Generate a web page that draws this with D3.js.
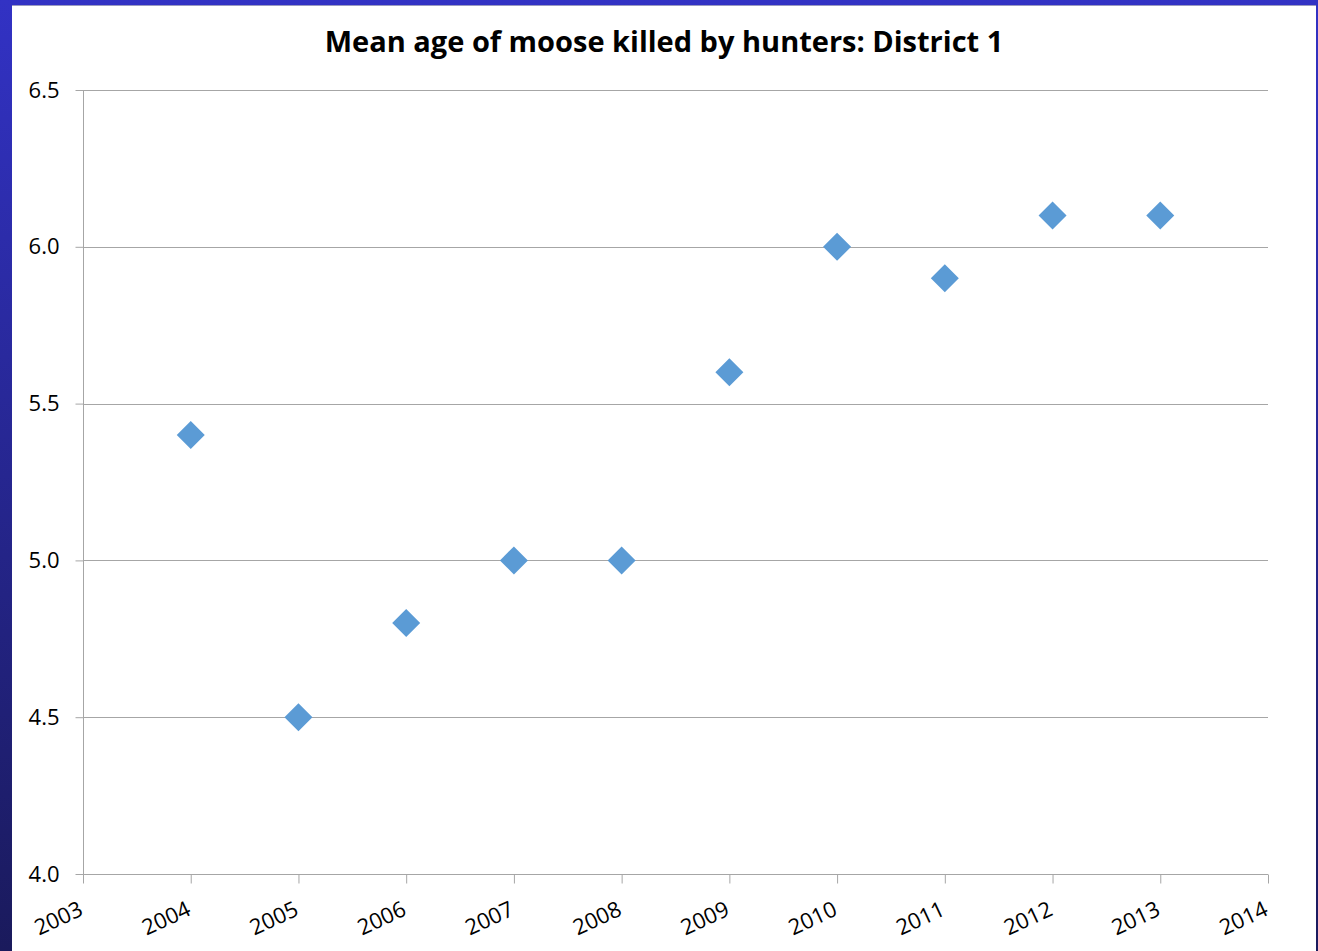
<!DOCTYPE html>
<html><head><meta charset="utf-8">
<script src="https://cdn.jsdelivr.net/npm/d3@7"></script>
<style>body{margin:0;padding:0;background:#fff;}svg{display:block;}</style>
</head><body>
<script>
const years = [2004, 2005, 2006, 2007, 2008, 2009, 2010, 2011, 2012, 2013];
const meanAge = [5.4, 4.5, 4.8, 5.0, 5.0, 5.6, 6.0, 5.9, 6.1, 6.1];
const xTicks = [2003,2004,2005,2006,2007,2008,2009,2010,2011,2012,2013,2014];
const yTicks = [4.0, 4.5, 5.0, 5.5, 6.0, 6.5];
const title = "Mean age of moose killed by hunters: District 1";

const W = 1318, H = 951;
const svg = d3.select("body").append("svg").attr("width", W).attr("height", H);
const defs = svg.append("defs");
const grad = defs.append("linearGradient").attr("id","lg").attr("x1",0).attr("y1",0).attr("x2",0).attr("y2",1);
grad.append("stop").attr("offset","0%").attr("stop-color","#3232c4");
grad.append("stop").attr("offset","100%").attr("stop-color","#1a1a5c");

svg.append("rect").attr("width",W).attr("height",H).attr("fill","url(#lg)");
svg.append("rect").attr("x",12).attr("y",5).attr("width",W-14).attr("height",H-5).attr("fill","#fff");
svg.append("line").attr("x1",12).attr("x2",W-2).attr("y1",5.5).attr("y2",5.5).attr("stroke","#9a9ac0").attr("stroke-width",1);

const x = d3.scaleLinear().domain([2003, 2014]).range([83, 1268]);
const y = d3.scaleLinear().domain([4.0, 6.5]).range([874, 90]);

const font = "'Open Sans', 'DejaVu Sans', sans-serif";

// gridlines
svg.append("g").selectAll("line").data(yTicks).join("line")
  .attr("x1", 83).attr("x2", 1268)
  .attr("y1", d => Math.round(y(d)) + 0.5).attr("y2", d => Math.round(y(d)) + 0.5)
  .attr("stroke", "#a6a6a6").attr("stroke-width", 1);

// y axis
const yAxis = svg.append("g").attr("transform","translate(83.5,0)")
  .call(d3.axisLeft(y).tickValues(yTicks).tickFormat(d3.format(".1f")).tickSize(8).tickPadding(16));
yAxis.select(".domain").attr("stroke","#a6a6a6").attr("d", `M0,${y(6.5)}V${y(4.0)}`);
yAxis.selectAll(".tick line").attr("stroke","#a6a6a6");
yAxis.selectAll(".tick text").attr("font-family",font).attr("font-size",22).attr("fill","#000");

// x axis
const xAxis = svg.append("g").attr("transform",`translate(0,${Math.round(y(4.0))+0.5})`)
  .call(d3.axisBottom(x).tickValues(xTicks).tickFormat(d3.format("d")).tickSize(9));
xAxis.select(".domain").attr("stroke","#a6a6a6").attr("d", `M${x(2003)},0H${x(2014)}`);
xAxis.selectAll(".tick line").attr("stroke","#a6a6a6");
xAxis.selectAll(".tick text").attr("font-family",font).attr("font-size",22).attr("fill","#000")
  .attr("text-anchor","end").attr("dy",0).attr("y",0)
  .attr("transform","translate(1,40) rotate(-25)");

// markers
const pts = years.map((yr,i)=>({yr, v: meanAge[i]}));
const s = 14;
svg.append("g").selectAll("path").data(pts).join("path")
  .attr("d", d => { const cx = x(d.yr), cy = y(d.v); return `M${cx},${cy-s}L${cx+s},${cy}L${cx},${cy+s}L${cx-s},${cy}Z`; })
  .attr("fill", "#5b9bd5");

// title
svg.append("text").attr("x", 664).attr("y", 52).attr("text-anchor","middle")
  .attr("font-family", font).attr("font-weight","bold").attr("font-size",29).attr("fill","#000")
  .text(title);
</script>
</body></html>
